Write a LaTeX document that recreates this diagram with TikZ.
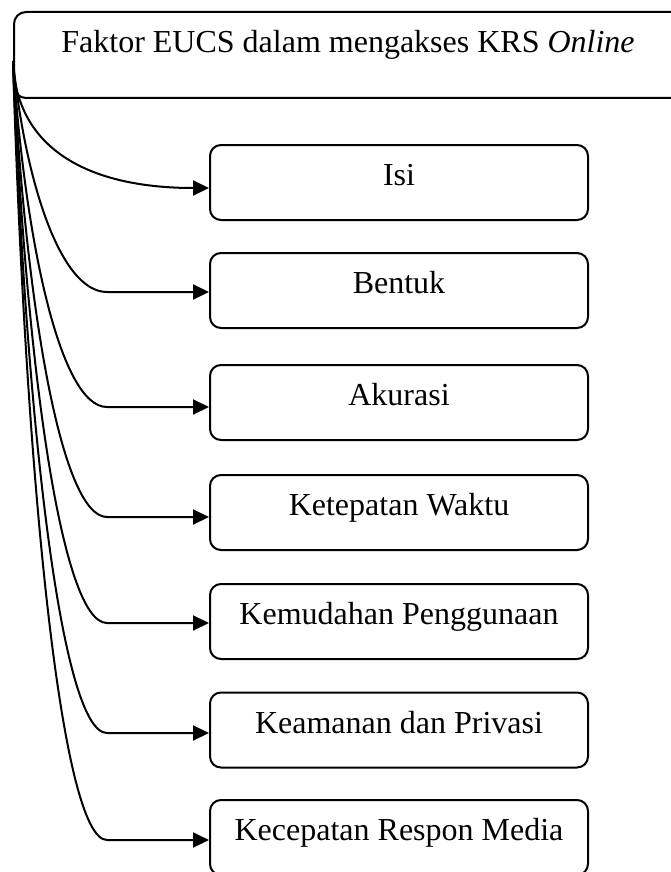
\documentclass[tikz,border=0pt]{standalone}
\usepackage{fontspec}
\setmainfont{Liberation Serif}
\usetikzlibrary{arrows.meta}
\begin{document}
\begin{tikzpicture}[x=1pt,y=-1pt,
  every node/.style={font=\fontsize{32}{38}\selectfont},
  topbox/.style={draw, line width=2pt, rounded corners=12pt, minimum width=690pt, minimum height=86pt, anchor=north west, inner sep=0pt},
  itembox/.style={draw, line width=2pt, rounded corners=11pt, minimum width=378pt, minimum height=75pt, text height=0.7em, text depth=0.02em, inner sep=0pt},
  conn/.style={line width=2pt, -{Triangle[length=16pt,width=15pt]}}]
\useasboundingbox (0,0) rectangle (670,872);
\node[topbox] (top) at (13,11) {};
\node[anchor=base] (title) at (348,53) {Faktor EUCS dalam mengakses KRS \textit{Online}};
\node[itembox] (b1) at (399,182.5) {Isi};
\node[itembox] (b2) at (399,290.5) {Bentuk};
\node[itembox] (b3) at (399,402.5) {Akurasi};
\node[itembox] (b4) at (399,512.5) {Ketepatan Waktu};
\node[itembox] (b5) at (399,621.5) {Kemudahan Penggunaan};
\node[itembox] (b6) at (399,730) {Keamanan dan Privasi};
\node[itembox] (b7) at (399,837.5) {Kecepatan Respon Media};
\coordinate (src) at ([yshift=-6pt]top.west);
\draw[conn] (src) .. controls (16,150) and (90,188) .. ([yshift=-5.5pt]b1.west);
\draw[conn] (src) .. controls (25,180) and (60,292) .. (107,292) -- ([yshift=-1.5pt]b2.west);
\draw[conn] (src) .. controls (25,240) and (60,407) .. (107,407) -- ([yshift=-4.5pt]b3.west);
\draw[conn] (src) .. controls (25,296) and (60,517) .. (107,517) -- ([yshift=-4.5pt]b4.west);
\draw[conn] (src) .. controls (25,351) and (60,623) .. (107,623) -- ([yshift=-1.5pt]b5.west);
\draw[conn] (src) .. controls (25,408) and (60,733) .. (107,733) -- ([yshift=-3pt]b6.west);
\draw[conn] (src) .. controls (25,463) and (60,840) .. (107,840) -- ([yshift=-2.5pt]b7.west);
\end{tikzpicture}
\end{document}
